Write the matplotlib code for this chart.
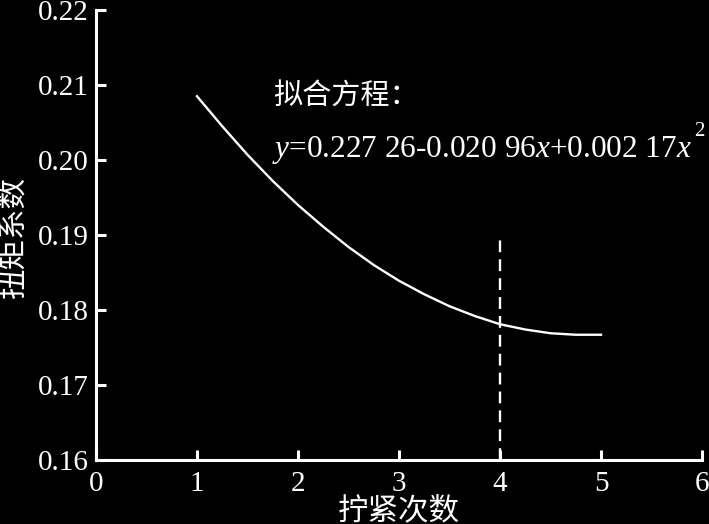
import matplotlib
matplotlib.use("Agg")
import matplotlib.pyplot as plt

# data
x_vals = [1.0, 1.25, 1.5, 1.75, 2.0, 2.25, 2.5, 2.75, 3.0, 3.25, 3.5, 3.75, 4.0, 4.25, 4.5, 4.75, 5.0]
y_vals = [0.2085, 0.2045, 0.2007, 0.1972, 0.1940, 0.1911, 0.1884, 0.1860, 0.1839, 0.1821, 0.1805, 0.1792, 0.1781, 0.1774, 0.1769, 0.1767, 0.1767]
dash_x = 4
dash_y_top = 0.1895
x_ticks = [0, 1, 2, 3, 4, 5, 6]
y_ticks = [0.16, 0.17, 0.18, 0.19, 0.20, 0.21, 0.22]
y_ticklabels = ["0.16", "0.17", "0.18", "0.19", "0.20", "0.21", "0.22"]
xlabel = "拧紧次数"
ylabel = "扭矩系数"
eq_title = "拟合方程："
eq_text = r"$y$=0.227 26-0.020 96$x$+0.002 17$x$"
eq_sup = "2"

FAM = ["Liberation Serif", "Noto Sans CJK SC", "DejaVu Sans"]
plt.rcParams["font.family"] = FAM
plt.rcParams["mathtext.fontset"] = "custom"
plt.rcParams["mathtext.it"] = "Liberation Serif:italic"
plt.rcParams["mathtext.rm"] = "Liberation Serif"

W, H = 709, 524
fig = plt.figure(figsize=(W/100, H/100), dpi=100, facecolor="black")
ax = fig.add_axes([96/W, 1 - 460/H, (702-96)/W, (460-10)/H])
ax.set_facecolor("black")

ax.plot(x_vals, y_vals, color="white", lw=1.7)
ax.plot([dash_x, dash_x], [0.16, dash_y_top], color="white", lw=1.7, ls=(0, (5, 3)))

ax.set_xlim(0, 6)
ax.set_ylim(0.16, 0.22)
ax.set_xticks(x_ticks)
ax.set_yticks(y_ticks)
ax.set_yticklabels(y_ticklabels)
for s in ["top", "right"]:
    ax.spines[s].set_visible(False)
for s in ["left", "bottom"]:
    ax.spines[s].set_color("white")
    ax.spines[s].set_linewidth(2.2)
ax.tick_params(direction="in", length=7, width=2.2, colors="white", labelsize=21)
ax.tick_params(axis="y", pad=5)
ax.tick_params(axis="x", pad=8)

fig.text(399/W, 1 - 519/H, xlabel, color="white", fontsize=22, ha="center", va="baseline")
fig.text(14/W, 1 - 237/H, ylabel, color="white", fontsize=22, ha="center", va="center", rotation=90)

fig.text(273/W, 1 - 105/H, eq_title, color="white", fontsize=21, va="baseline")
eq = fig.text(272/W, 1 - 157/H, eq_text, color="white", fontsize=22.5, va="baseline")

fig.canvas.draw()
bb = eq.get_window_extent()
fig.text((bb.x1 + 2)/W, 1 - 136/H, eq_sup, color="white", fontsize=15, va="baseline")

fig.savefig("out.png", dpi=100, facecolor="black")
